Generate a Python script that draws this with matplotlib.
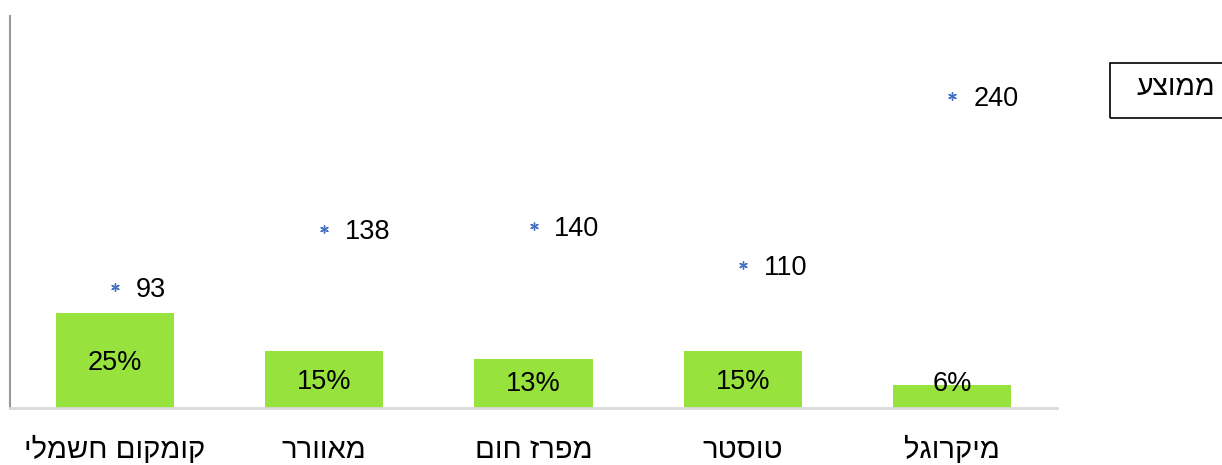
import matplotlib
matplotlib.use("Agg")
import matplotlib.pyplot as plt
from matplotlib.patches import Rectangle

plt.rcParams['font.family'] = ['Liberation Sans', 'DejaVu Sans']

categories = ["קומקום חשמלי", "מאוורר", "מפרז חום", "טוסטר", "מיקרוגל"]
share = [0.25, 0.15, 0.13, 0.15, 0.06]
average = [93, 138, 140, 110, 240]
legend_label = "ממוצע"

def rtl(s):
    return s[::-1]

W, H = 1222, 465
fig = plt.figure(figsize=(W / 100, H / 100), dpi=100)
ax = fig.add_axes([10 / W, 1 - 408 / H, (1057 - 10) / W, (408 - 16) / H])
ax2 = ax.twinx()

x = list(range(len(categories)))
ax.bar(x, share, width=0.565, color='#97E23D', zorder=2)
ax.set_xlim(-0.5, len(categories) - 0.5)
ax.set_ylim(0, 1.03)
for xi, v in zip(x, share):
    ax.text(xi, max(v / 2, 0.07), f"{v:.0%}", ha='center', va='center_baseline',
            fontsize=19.5, color='black', zorder=3)

ax2.scatter(x, average, marker=(6, 2, 0), s=30, color='#4472C4', linewidths=1, zorder=4)
ax2.set_ylim(0, 301.5)
for xi, v in zip(x, average):
    ax2.annotate(str(v), (xi, v), xytext=(15, 0), textcoords='offset points',
                 ha='left', va='center_baseline', fontsize=19.5, color='black')

ax.set_xticks(x)
ax.set_xticklabels([rtl(c) for c in categories], fontsize=21)
ax.tick_params(axis='x', length=0, pad=20)
ax.set_yticks([])
ax2.set_yticks([])

for a in (ax, ax2):
    for s in a.spines.values():
        s.set_visible(False)
ax.spines['left'].set_visible(True)
ax.spines['left'].set_color('#999999')
ax.spines['left'].set_linewidth(1.5)
ax.spines['bottom'].set_visible(True)
ax.spines['bottom'].set_color('#D9D9D9')
ax.spines['bottom'].set_linewidth(2)

fig.patches.append(Rectangle((1110 / W, 1 - 118 / H), 130 / W, 55 / H,
                             transform=fig.transFigure, fill=False,
                             edgecolor='black', linewidth=1.2))
fig.text(1176 / W, 1 - 88 / H, rtl(legend_label), ha='center', va='center', fontsize=20.5)

fig.savefig("out.png", dpi=100)
